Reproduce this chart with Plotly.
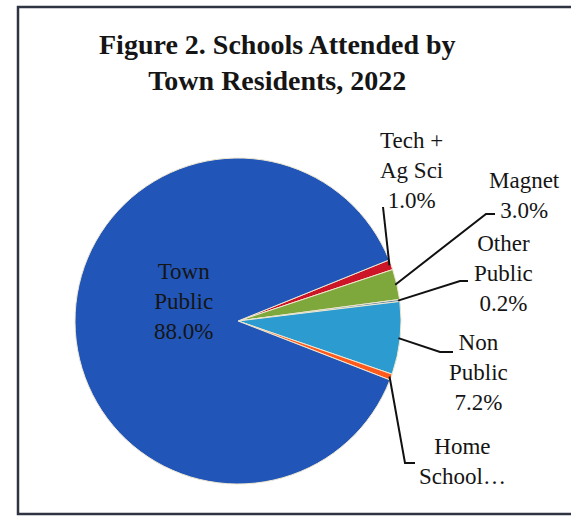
import math
import plotly.graph_objects as go

# ---- data ----
labels = ["Tech + Ag Sci", "Magnet", "Other Public", "Non Public", "Home School", "Town Public"]
values = [1.0, 3.0, 0.2, 7.2, 0.6, 88.0]
colors = ["#cc1526", "#7fa83c", "#5a7fa0", "#2b9bd0", "#ff5a1e", "#2156b8"]
label_texts = ["Tech +<br>Ag Sci<br>1.0%", "Magnet<br>3.0%", "Other<br>Public<br>0.2%",
               "Non<br>Public<br>7.2%", "Home<br>School…", "Town<br>Public<br>88.0%"]

W, H = 571, 517
CX, CY, R = 238, 321, 163
ROT = 68  # degrees clockwise from 12 o'clock where first slice starts

def px(x):
    return x / W

def py(y):
    return 1 - y / H

fig = go.Figure()
fig.add_trace(go.Pie(
    labels=labels, values=values, sort=False, direction="clockwise", rotation=ROT,
    marker=dict(colors=colors, line=dict(color="#efe8d0", width=1)),
    textinfo="none", hoverinfo="label+percent", showlegend=False,
    domain=dict(x=[px(CX - R), px(CX + R)], y=[py(CY + R), py(CY - R)]),
))

# slice mid-angles from data (degrees, math convention)
total = sum(values)
start = 90 - ROT
mids = []
acc = 0.0
for v in values:
    a0 = start - acc / total * 360
    a1 = start - (acc + v) / total * 360
    mids.append((a0 + a1) / 2)
    acc += v

def edge(i, rr=1.0):
    a = math.radians(mids[i])
    return CX + R * rr * math.cos(a), CY - R * rr * math.sin(a)

# leader line elbow / end points (layout positions, px)
leaders = {
    0: [(383, 207)],
    1: [(486, 214), (495, 214)],
    2: [(460, 281), (468, 281)],
    3: [(440, 352), (453, 352)],
    4: [(405, 463), (415, 463)],
}
shapes = []
for i, pts in leaders.items():
    x0, y0 = edge(i, 0.99)
    path = f"M {px(x0)},{py(y0)}"
    for (x, y) in pts:
        path += f" L {px(x)},{py(y)}"
    shapes.append(dict(type="path", path=path, xref="paper", yref="paper",
                       line=dict(color="#111111", width=2)))

# frame
shapes.append(dict(type="rect", xref="paper", yref="paper",
                   x0=px(18), x1=1.02, y0=py(514), y1=py(7),
                   line=dict(color="#2e3442", width=2.5)))

label_pos = [(411, 170), (524, 195), (503, 273), (478, 372), (462, 461), (183, 301)]
annotations = []
for t, (x, y) in zip(label_texts, label_pos):
    annotations.append(dict(text=t, x=px(x), y=py(y), xref="paper", yref="paper",
                            showarrow=False, xanchor="center", yanchor="middle",
                            font=dict(family="Liberation Serif", size=23, color="#151515")))

annotations.append(dict(text="<b>Figure 2. Schools Attended by<br>Town Residents, 2022</b>",
                        x=px(277), y=py(62), xref="paper", yref="paper", showarrow=False,
                        xanchor="center", yanchor="middle",
                        font=dict(family="Liberation Serif", size=28, color="#151515")))

fig.update_layout(
    width=W, height=H, margin=dict(l=0, r=0, t=0, b=0),
    paper_bgcolor="white", plot_bgcolor="white",
    shapes=shapes, annotations=annotations,
)
fig.write_html("out.html", config={"displayModeBar": False},
               post_script="document.body.style.margin='0';document.body.style.overflow='hidden';")
